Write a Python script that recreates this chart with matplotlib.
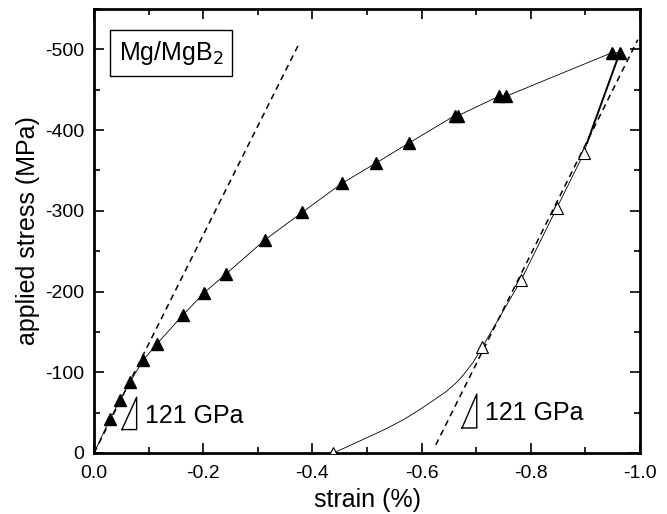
import matplotlib
matplotlib.use("Agg")
import matplotlib.pyplot as plt
from matplotlib.ticker import MultipleLocator, FuncFormatter

plt.rcParams['font.family'] = ['Liberation Sans', 'DejaVu Sans']
plt.rcParams['axes.unicode_minus'] = False

# Loading branch (filled triangles)
load_strain = [-0.029, -0.048, -0.066, -0.090, -0.115, -0.163, -0.201, -0.242,
               -0.313, -0.381, -0.454, -0.516, -0.577, -0.661, -0.667, -0.742,
               -0.755, -0.949, -0.963]
load_stress = [-42, -66, -88, -115, -135, -171, -198, -222,
               -264, -298, -334, -359, -384, -418, -418, -442,
               -442, -496, -496]

# Unloading branch (open triangles)
unload_strain = [-0.897, -0.848, -0.782, -0.711, -0.438]
unload_stress = [-371, -304, -214, -131, 0]

# Unloading curve (line only)
unload_line_strain = [-0.963, -0.903, -0.897, -0.848, -0.782, -0.711, -0.695,
                      -0.678, -0.665, -0.645, -0.621, -0.595, -0.566, -0.535,
                      -0.50, -0.468, -0.438]
unload_line_stress = [-496, -384, -371, -304, -214, -131, -113,
                      -98, -88, -76, -65, -53, -41, -30,
                      -19, -9, 0]

# Elastic fits (dashed)
fit1_strain = [0.0, -0.374]
fit1_stress = [0, -505]
fit2_strain = [-0.626, -0.996]
fit2_stress = [-10, -512]

# Slope indicator triangles
tri1_strain = [-0.051, -0.078, -0.078, -0.051]
tri1_stress = [-29, -69, -29, -29]
tri2_strain = [-0.674, -0.701, -0.701, -0.674]
tri2_stress = [-31, -73, -31, -31]

fig = plt.figure(figsize=(6.67, 5.14), dpi=100)
ax = fig.add_axes([0.141, 0.1187, 0.8185, 0.8638])

ax.plot([0.0] + load_strain, [0] + load_stress, color='black', lw=0.6, zorder=2)
ax.plot(load_strain, load_stress, linestyle='none', marker='^', ms=9,
        mfc='black', mec='black', zorder=3)
ax.plot(unload_line_strain[:2], unload_line_stress[:2], color='black', lw=1.4, zorder=2)
ax.plot(unload_line_strain[1:], unload_line_stress[1:], color='black', lw=0.6, zorder=2)
ax.plot(unload_strain, unload_stress, linestyle='none', marker='^', ms=8.5,
        mfc='white', mec='black', mew=0.8, zorder=3)

ax.plot(fit1_strain, fit1_stress, color='black', lw=1.1, ls=(0, (4, 3)), zorder=2)
ax.plot(fit2_strain, fit2_stress, color='black', lw=1.1, ls=(0, (4, 3)), zorder=2)

ax.plot(tri1_strain, tri1_stress, color='black', lw=1.0)
ax.plot(tri2_strain, tri2_stress, color='black', lw=1.0)
ax.text(-0.093, -37, '121 GPa', fontsize=18, ha='left', va='baseline')
ax.text(-0.716, -41, '121 GPa', fontsize=18, ha='left', va='baseline')

ax.text(0.141, 0.901, 'Mg/MgB$_2$', transform=ax.transAxes, fontsize=18,
        ha='center', va='center',
        bbox=dict(boxstyle='square,pad=0.35', fc='white', ec='black', lw=1.0))

ax.set_xlim(0, -1.0)
ax.set_ylim(0, -550)
ax.xaxis.set_major_locator(MultipleLocator(0.2))
ax.xaxis.set_minor_locator(MultipleLocator(0.1))
ax.yaxis.set_major_locator(MultipleLocator(100))
ax.yaxis.set_minor_locator(MultipleLocator(50))
ax.xaxis.set_major_formatter(FuncFormatter(lambda v, p: '0.0' if abs(v) < 1e-9 else '%.1f' % v))
ax.yaxis.set_major_formatter(FuncFormatter(lambda v, p: '0' if abs(v) < 1e-9 else '%d' % round(v)))

ax.tick_params(which='both', direction='in', top=True, right=True, labelsize=14, width=1.2)
ax.tick_params(axis='x', which='major', length=7, pad=9)
ax.tick_params(axis='y', which='major', length=7, pad=7)
ax.tick_params(which='minor', length=4)
for s in ax.spines.values():
    s.set_linewidth(2.0)

ax.set_xlabel('strain (%)', fontsize=18, labelpad=4)
ax.set_ylabel('applied stress (MPa)', fontsize=18, labelpad=4)

fig.savefig('out.png', dpi=100)
